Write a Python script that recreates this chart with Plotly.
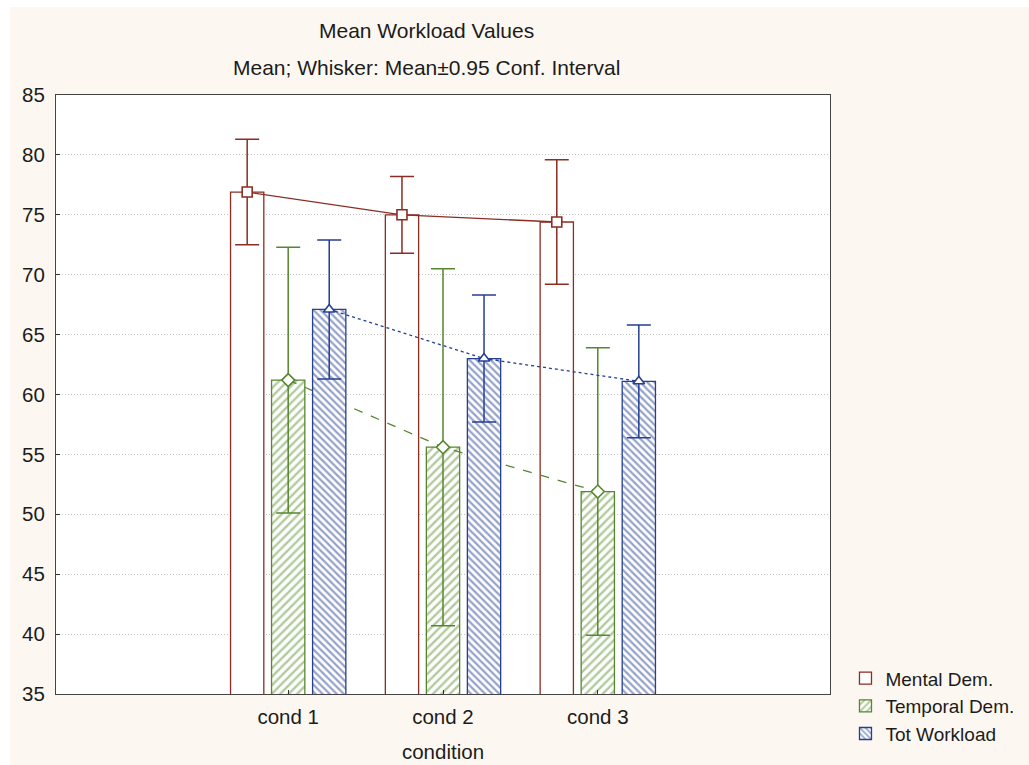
import plotly.graph_objects as go

# ---- data -------------------------------------------------------------
conditions = ["cond 1", "cond 2", "cond 3"]

mental_mean = [76.9, 75.0, 74.4]
mental_ci = [4.4, 3.2, 5.2]

temporal_mean = [61.2, 55.6, 51.9]
temporal_ci = [11.1, 14.9, 12.0]

total_mean = [67.1, 63.0, 61.1]
total_ci = [5.8, 5.3, 4.7]

series_names = ["Mental Dem.", "Temporal Dem.", "Tot Workload"]

# ---- style ------------------------------------------------------------
FONT = "Liberation Sans, Arial, sans-serif"
TEXT = "#1c1c1c"
CREAM = "#fcf7f0"

RED = "#8b2d22"
GREEN = "#56872f"
GREEN_HATCH = "#64963a"
BLUE = "#243f93"
BLUE_HATCH = "#2a4496"

SLOT = 0.265      # distance between neighbouring bars in a group (x units)
BAR_W = 0.215     # bar width (x units)

positions = list(range(len(conditions)))

series = [
    dict(name=series_names[0], mean=mental_mean, ci=mental_ci, shift=-SLOT,
         line=RED, fill="white", pattern=None, dash="solid",
         symbol="square", axis="x"),
    dict(name=series_names[1], mean=temporal_mean, ci=temporal_ci, shift=0.0,
         line=GREEN, fill="white",
         pattern=dict(shape="/", fgcolor=GREEN_HATCH, bgcolor="white",
                      size=6, solidity=0.4),
         dash="dash", symbol="diamond", axis="x2"),
    dict(name=series_names[2], mean=total_mean, ci=total_ci, shift=SLOT,
         line=BLUE, fill="white",
         pattern=dict(shape="\\", fgcolor=BLUE_HATCH, bgcolor="white",
                      size=5, solidity=0.45),
         dash="dot", symbol="triangle-up", axis="x3"),
]

fig = go.Figure()

# Each series lives on its own overlaid x axis so that its bars, line,
# markers and whiskers are stacked above the previous series.
for s in series:
    xs = [p + s["shift"] for p in positions]
    bar_kw = dict(color=s["fill"], line=dict(color=s["line"], width=1.3))
    if s["pattern"] is not None:
        bar_kw["pattern"] = s["pattern"]
    fig.add_trace(go.Bar(
        x=positions, y=s["mean"], name=s["name"],
        width=BAR_W, offset=s["shift"] - BAR_W / 2,
        marker=bar_kw, xaxis=s["axis"], yaxis="y",
        showlegend=True, hoverinfo="skip",
    ))
    fig.add_trace(go.Scatter(
        x=xs, y=s["mean"], mode="lines+markers", name=s["name"],
        line=dict(color=s["line"], width=1.3, dash=s["dash"]),
        marker=dict(symbol=s["symbol"], size=10, color="white",
                    line=dict(color=s["line"], width=1.6)),
        error_y=dict(type="data", array=s["ci"], visible=True,
                     color=s["line"], thickness=1.5, width=12),
        xaxis=s["axis"], yaxis="y", showlegend=False,
    ))

x_common = dict(range=[-1.5, 3.5], domain=[0, 1])

fig.update_layout(
    width=1029, height=765,
    margin=dict(l=56, r=199, t=95, b=71, autoexpand=False),
    paper_bgcolor=CREAM,
    plot_bgcolor="white",
    font=dict(family=FONT, size=20, color=TEXT),
    barmode="overlay",
    showlegend=True,
    legend=dict(
        x=1.02, y=0.058, xanchor="left", yanchor="top",
        font=dict(family=FONT, size=19, color=TEXT),
        bgcolor="rgba(0,0,0,0)", tracegroupgap=0,
    ),
    xaxis=dict(
        **x_common,
        tickmode="array", tickvals=positions, ticktext=conditions,
        ticks="inside", ticklen=4, tickcolor="#333",
        showline=True, linecolor="#444", linewidth=1, mirror=True,
        showgrid=False, zeroline=False, automargin=False,
        ticklabelstandoff=4,
        title=dict(text="condition", standoff=18,
                   font=dict(family=FONT, size=20.5, color=TEXT)),
        tickfont=dict(family=FONT, size=20.5, color=TEXT),
    ),
    xaxis2=dict(**x_common, overlaying="x", visible=False),
    xaxis3=dict(**x_common, overlaying="x", visible=False),
    yaxis=dict(
        range=[35, 85], dtick=5, tick0=35,
        ticks="inside", ticklen=4, tickcolor="#333",
        showline=True, linecolor="#444", linewidth=1, mirror=True,
        showgrid=True, gridcolor="#c4c4c4", griddash="1px,2px", gridwidth=1,
        zeroline=False, automargin=False,
        tickfont=dict(family=FONT, size=20.5, color=TEXT),
        ticklabelstandoff=6,
    ),
    annotations=[
        dict(text="Mean Workload Values", xref="paper", yref="paper",
             x=0.4787, y=1.1085, xanchor="center", yanchor="middle",
             showarrow=False, font=dict(family=FONT, size=21, color=TEXT)),
        dict(text="Mean; Whisker: Mean\u00b10.95 Conf. Interval",
             xref="paper", yref="paper",
             x=0.4787, y=1.0467, xanchor="center", yanchor="middle",
             showarrow=False, font=dict(family=FONT, size=21, color=TEXT)),
    ],
    shapes=[
        # thin white margins along the top and left edges of the page
        dict(type="rect", xref="paper", yref="paper", layer="below",
             x0=-0.08, x1=1.3, y0=1.147, y1=1.2,
             fillcolor="white", line=dict(width=0)),
        dict(type="rect", xref="paper", yref="paper", layer="below",
             x0=-0.08, x1=-0.0594, y0=-0.2, y1=1.2,
             fillcolor="white", line=dict(width=0)),
    ],
)

fig.write_html("out.html")
